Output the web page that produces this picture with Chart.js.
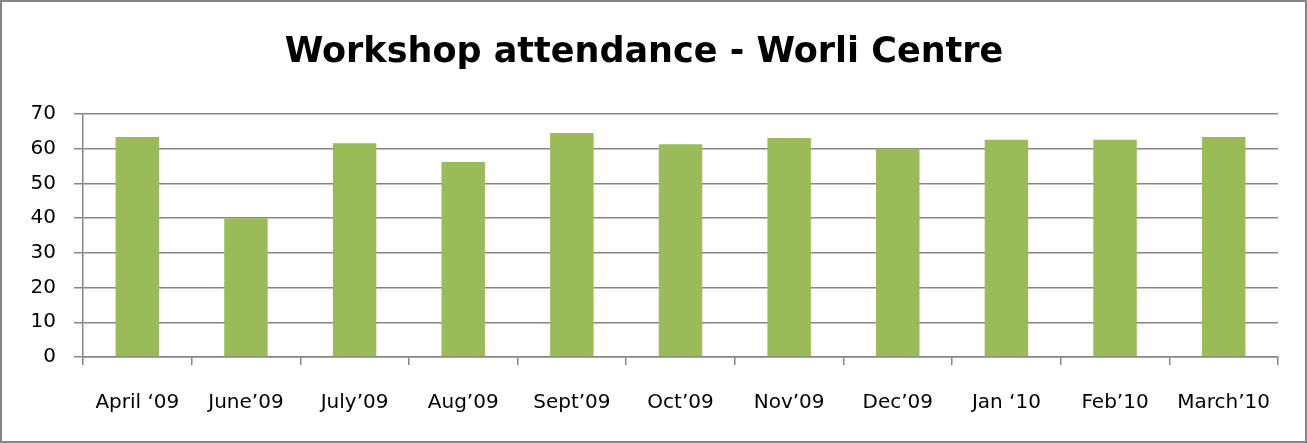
<!DOCTYPE html>
<html>
<head>
<meta charset="utf-8">
<script src="https://cdn.jsdelivr.net/npm/chart.js@4"></script>
<style>
  html, body { margin: 0; padding: 0; background: #fff; }
  canvas { display: block; }
</style>
</head>
<body>
<canvas id="c" width="1307" height="443"></canvas>
<script>
const categories = ["April \u201809", "June\u201909", "July\u201909", "Aug\u201909", "Sept\u201909", "Oct\u201909", "Nov\u201909", "Dec\u201909", "Jan \u201810", "Feb\u201910", "March\u201910"];
const attendance = [63.4, 40, 61.6, 56.2, 64.5, 61.3, 63.1, 60, 62.6, 62.6, 63.4];
const yTicks = [0, 10, 20, 30, 40, 50, 60, 70];
const chartTitle = "Workshop attendance - Worli Centre";

const gray = "#868686";

const borderPlugin = {
  id: "outerBorder",
  afterDraw(chart) {
    const ctx = chart.ctx;
    ctx.save();
    ctx.strokeStyle = gray;
    ctx.lineWidth = 2;
    ctx.strokeRect(1, 1, chart.width - 2, chart.height - 2);
    ctx.restore();
  }
};

new Chart(document.getElementById("c"), {
  type: "bar",
  data: {
    labels: categories,
    datasets: [{
      data: attendance,
      backgroundColor: "#9BBB59",
      borderWidth: 0,
      barPercentage: 0.4,
      categoryPercentage: 1.0
    }]
  },
  options: {
    responsive: false,
    animation: false,
    devicePixelRatio: 1,
    layout: { padding: { left: 10, right: 29, top: 0, bottom: 0 } },
    plugins: {
      legend: { display: false },
      tooltip: { enabled: false },
      title: {
        display: true,
        text: chartTitle,
        color: "#000",
        font: { family: "'DejaVu Sans'", size: 35, weight: "bold", lineHeight: 1.2 },
        padding: { top: 32, bottom: 40 }
      }
    },
    scales: {
      x: {
        grid: { display: true, drawOnChartArea: false, drawTicks: true, tickLength: 8, color: gray, lineWidth: 1.5, offset: true },
        border: { display: true, color: gray, width: 1.5 },
        ticks: { color: "#000", font: { family: "'DejaVu Sans'", size: 20 }, padding: 26, maxRotation: 0, autoSkip: false },
        afterFit(scale) { scale.height = 86; }
      },
      y: {
        min: 0,
        max: 70,
        afterBuildTicks(scale) { scale.ticks = yTicks.map(v => ({ value: v })); },
        grid: { color: gray, lineWidth: 1.5, drawTicks: true, tickLength: 9 },
        border: { display: true, color: gray, width: 1.5 },
        ticks: { color: "#000", font: { family: "'DejaVu Sans'", size: 20 }, padding: 18 },
        afterFit(scale) { scale.width = 73; }
      }
    }
  },
  plugins: [borderPlugin]
});
</script>
</body>
</html>
